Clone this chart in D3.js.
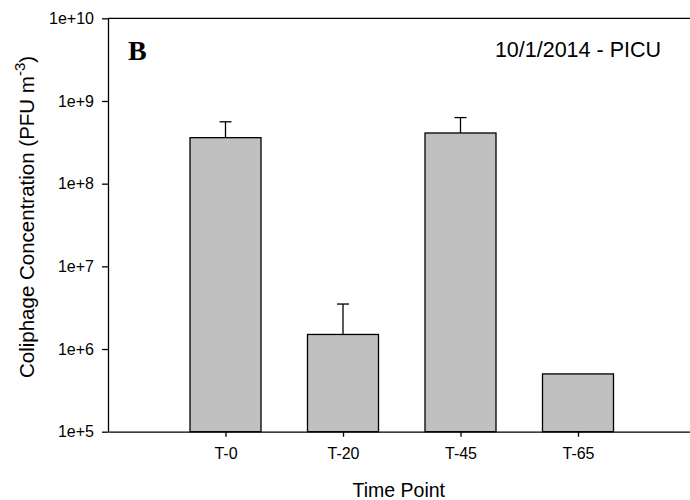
<!DOCTYPE html>
<html>
<head>
<meta charset="utf-8">
<script src="https://cdn.jsdelivr.net/npm/d3@7"></script>
<style>
  body { margin: 0; background: #fff; }
  text { font-family: "Liberation Sans", Arial, sans-serif; fill: #000; }
</style>
</head>
<body>
<div id="chart"></div>
<script>
// data
var timePoints = ["T-0", "T-20", "T-45", "T-65"];
var concentration = [3.6e8, 1.5e6, 4.1e8, 5.0e5];
var errorUp = [2.0e8, 2.0e6, 2.2e8, 0];
var yTickValues = [1e5, 1e6, 1e7, 1e8, 1e9, 1e10];

var svgWidth = 690;
var svgHeight = 500;

var margin = {
  top: 18.3,
  right: -5.5,
  bottom: 68.3,
  left: 108
};

var width = svgWidth - margin.left - margin.right;
var height = svgHeight - margin.top - margin.bottom;

var svg = d3.select("#chart")
  .append("svg")
  .attr("width", svgWidth)
  .attr("height", svgHeight);

var chartGroup = svg.append("g")
  .attr("transform", `translate(${margin.left}, ${margin.top})`);

// x positions 1..4 on a 0..5 axis
var xScale = d3.scaleLinear()
  .domain([0, 5])
  .range([0, width]);

var yScale = d3.scaleLog()
  .domain([1e5, 1e10])
  .range([height, 0]);

var barWidth = 71;

// bars
chartGroup.selectAll("rect.bar")
  .data(concentration)
  .enter()
  .append("rect")
  .attr("class", "bar")
  .attr("x", (d, i) => xScale(i + 1) - barWidth / 2)
  .attr("y", d => yScale(d))
  .attr("width", barWidth)
  .attr("height", d => height - yScale(d))
  .attr("fill", "#c0c0c0")
  .attr("stroke", "#000")
  .attr("stroke-width", 1.3);

// upper error bars (skip points without one)
var errData = concentration
  .map((d, i) => ({ i: i, v: d, e: errorUp[i] }))
  .filter(d => d.e > 0);

var errGroup = chartGroup.selectAll("g.err")
  .data(errData)
  .enter()
  .append("g")
  .attr("class", "err");

errGroup.append("line")
  .attr("x1", d => xScale(d.i + 1))
  .attr("x2", d => xScale(d.i + 1))
  .attr("y1", d => yScale(d.v))
  .attr("y2", d => yScale(d.v + d.e))
  .attr("stroke", "#000")
  .attr("stroke-width", 1.3);

errGroup.append("line")
  .attr("x1", d => xScale(d.i + 1) - 6)
  .attr("x2", d => xScale(d.i + 1) + 6)
  .attr("y1", d => yScale(d.v + d.e))
  .attr("y2", d => yScale(d.v + d.e))
  .attr("stroke", "#000")
  .attr("stroke-width", 1.3);

// axes
var leftAxis = d3.axisLeft(yScale)
  .tickValues(yTickValues)
  .tickFormat(d => "1e+" + Math.round(Math.log10(d)))
  .tickSize(6)
  .tickSizeOuter(0)
  .tickPadding(8);

var bottomAxis = d3.axisBottom(xScale)
  .tickValues([1, 2, 3, 4])
  .tickFormat(d => timePoints[d - 1])
  .tickSize(5)
  .tickSizeOuter(0)
  .tickPadding(11);

var yAxis = chartGroup.append("g")
  .call(leftAxis);

var xAxis = chartGroup.append("g")
  .attr("transform", `translate(0, ${height})`)
  .call(bottomAxis);

[yAxis, xAxis].forEach(function(ax) {
  ax.selectAll("path, line").attr("stroke", "#000").attr("stroke-width", 1.3);
  ax.selectAll("text")
    .attr("fill", "#000")
    .style("font-family", "'Liberation Sans', Arial, sans-serif")
    .style("font-size", "16px");
});

// top frame line
chartGroup.append("line")
  .attr("x1", 0)
  .attr("x2", width)
  .attr("y1", 0)
  .attr("y2", 0)
  .attr("stroke", "#000")
  .attr("stroke-width", 1.3);

// axis titles
chartGroup.append("text")
  .attr("x", width / 2 - 3)
  .attr("y", height + 65)
  .attr("text-anchor", "middle")
  .style("font-size", "19.5px")
  .text("Time Point");

// rotated y title, starts at the bottom (y = 378)
var yLabel = svg.append("text")
  .attr("transform", "translate(34, 378) rotate(-90)")
  .attr("text-anchor", "start")
  .style("font-size", "20.5px");

yLabel.append("tspan").text("Coliphage Concentration (PFU m");
yLabel.append("tspan").attr("dy", -9).style("font-size", "15px").text("-3");
yLabel.append("tspan").attr("dy", 9).text(")");

// panel letter and title
svg.append("text")
  .attr("x", 128)
  .attr("y", 60)
  .style("font-family", "'Liberation Serif', 'Times New Roman', serif")
  .style("font-weight", "bold")
  .style("font-size", "28px")
  .text("B");

svg.append("text")
  .attr("x", 661)
  .attr("y", 57)
  .attr("text-anchor", "end")
  .style("font-size", "21.5px")
  .text("10/1/2014 - PICU");
</script>
</body>
</html>
